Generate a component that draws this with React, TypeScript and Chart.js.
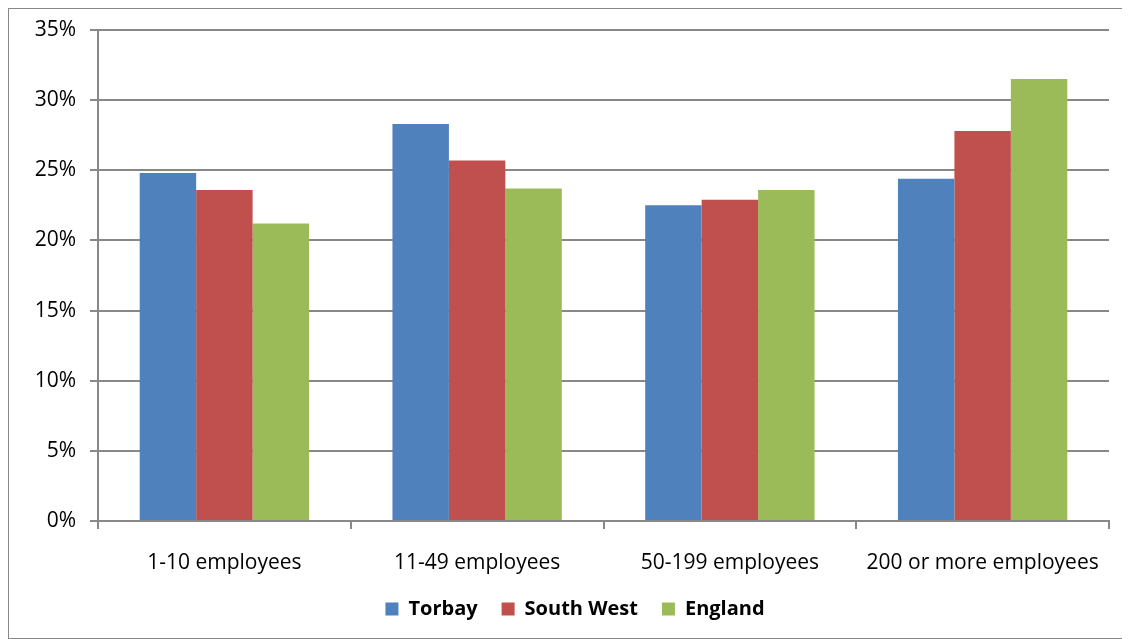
import React, { useEffect, useRef } from "react";
import { Chart, registerables } from "chart.js";

Chart.register(...registerables);

const categories = ["1-10 employees", "11-49 employees", "50-199 employees", "200 or more employees"];
const torbay = [24.8, 28.3, 22.5, 24.4];
const southWest = [23.6, 25.7, 22.9, 27.8];
const england = [21.2, 23.7, 23.6, 31.5];
const yTicks = [0, 5, 10, 15, 20, 25, 30, 35];

const FONT = "'Open Sans', sans-serif";

const legendShift = {
  id: "legendShift",
  afterLayout(chart: any) {
    if (chart.legend) {
      chart.legend.left += 16;
      chart.legend.right += 16;
    }
  },
};

export default function App() {
  const ref = useRef<HTMLCanvasElement | null>(null);
  useEffect(() => {
    if (!ref.current) return;
    const chart = new Chart(ref.current, {
      type: "bar",
      data: {
        labels: categories,
        datasets: [
          { label: "Torbay", data: torbay, backgroundColor: "#4F81BD" },
          { label: "South West", data: southWest, backgroundColor: "#C0504D" },
          { label: "England", data: england, backgroundColor: "#9BBB59" },
        ],
      },
      plugins: [legendShift],
      options: {
        responsive: false,
        animation: false,
        layout: { padding: { left: 0, right: 20, top: 21, bottom: 9 } },
        datasets: { bar: { barPercentage: 1, categoryPercentage: 0.67 } },
        plugins: {
          tooltip: { enabled: false },
          legend: {
            position: "bottom",
            labels: {
              boxWidth: 13,
              boxHeight: 13,
              padding: 24,
              color: "#000",
              font: { family: FONT, size: 20, weight: "bold" },
            },
          },
        },
        scales: {
          x: {
            grid: { offset: true, drawOnChartArea: false, tickLength: 8, color: "#888", lineWidth: 2 },
            border: { color: "#888", width: 2 },
            ticks: { color: "#000", padding: 21, font: { family: FONT, size: 21 } },
            afterFit: (s: any) => { s.height = 54; s.paddingLeft = 0; s.paddingRight = 0; },
          },
          y: {
            min: 0,
            max: 35,
            afterBuildTicks: (s: any) => { s.ticks = yTicks.map((v) => ({ value: v })); },
            grid: { tickLength: 8, color: "#888", lineWidth: 2 },
            border: { color: "#888", width: 2 },
            ticks: { color: "#000", padding: 14, font: { family: FONT, size: 21 }, callback: (v: any) => v + "%" },
            afterFit: (s: any) => { s.width = 89; s.paddingTop = 0; s.paddingBottom = 0; },
          },
        },
      },
    });
    return () => chart.destroy();
  }, []);
  return (
    <div style={{ width: 1122, height: 631, border: "1px solid #888", boxSizing: "border-box" }}>
      <canvas ref={ref} width={1120} height={629} />
    </div>
  );
}
